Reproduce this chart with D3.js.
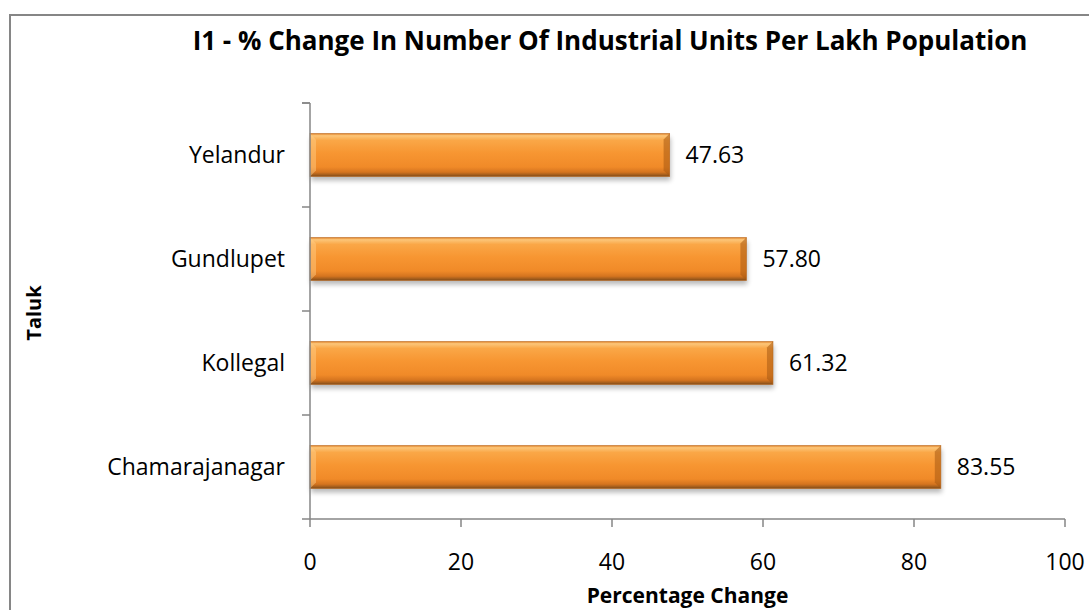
<!DOCTYPE html>
<html>
<head>
<meta charset="utf-8">
<script src="https://cdn.jsdelivr.net/npm/d3@7"></script>
<style>
  html, body { margin: 0; padding: 0; background: #ffffff; }
  svg { display: block; }
  text { font-family: "Open Sans", "Noto Sans", sans-serif; fill: #000; }
</style>
</head>
<body>
<svg id="chart" width="1089" height="610"></svg>
<script>
// Taluks (drawn bottom to top) and % change in industrial units per lakh population
const taluks = ["Chamarajanagar", "Kollegal", "Gundlupet", "Yelandur"];
const changeValues = [83.55, 61.32, 57.80, 47.63];
const xTicks = [0, 20, 40, 60, 80, 100];

const titleText = "I1 - % Change In Number Of Industrial Units Per Lakh Population";
const xTitle = "Percentage Change";
const yTitle = "Taluk";

const W = 1089, H = 610;
const plot = { left: 310, right: 1065, top: 103, bottom: 519 };
const axisColor = "#868686";

const svg = d3.select("#chart");

// chart frame
svg.append("rect")
  .attr("x", 10).attr("y", 15)
  .attr("width", W + 20).attr("height", H + 20)
  .attr("fill", "#fff")
  .attr("stroke", axisColor).attr("stroke-width", 2);

const defs = svg.append("defs");

const grad = defs.append("linearGradient")
  .attr("id", "barFill").attr("x1", 0).attr("y1", 0).attr("x2", 0).attr("y2", 1);
[
  [0, "#e07f25"], [0.05, "#fcc679"], [0.16, "#faa747"], [0.45, "#f79632"],
  [0.78, "#f08a28"], [0.9, "#d5741f"], [0.97, "#9c5a1c"], [1, "#7d4614"]
].forEach(([o, c]) => grad.append("stop").attr("offset", o).attr("stop-color", c));

const shadow = defs.append("filter").attr("id", "barShadow")
  .attr("x", "-5%").attr("y", "-30%").attr("width", "110%").attr("height", "170%");
shadow.append("feGaussianBlur").attr("stdDeviation", 2.5);

const x = d3.scaleLinear().domain([0, 100]).range([plot.left, plot.right]);
const gap = 0.587;
const y = d3.scaleBand().domain(taluks).range([plot.bottom, plot.top])
  .paddingInner(gap).paddingOuter(gap / 2);

const data = taluks.map((t, i) => ({ taluk: t, value: changeValues[i] }));

// bars with bevelled look
const bars = svg.append("g").selectAll("g").data(data).join("g");

bars.append("rect")
  .attr("x", x(0) + 1)
  .attr("y", d => y(d.taluk) + 4)
  .attr("width", d => x(d.value) - x(0))
  .attr("height", y.bandwidth())
  .attr("fill", "#000").attr("opacity", 0.28)
  .attr("filter", "url(#barShadow)");

bars.append("rect")
  .attr("x", x(0))
  .attr("y", d => y(d.taluk))
  .attr("width", d => x(d.value) - x(0))
  .attr("height", y.bandwidth())
  .attr("fill", "url(#barFill)");

const bev = 6;
// left end highlight
bars.append("path")
  .attr("d", d => {
    const x0 = x(0), y0 = y(d.taluk), h = y.bandwidth();
    return `M${x0},${y0} L${x0 + bev},${y0 + bev} L${x0 + bev},${y0 + h - bev} L${x0},${y0 + h} Z`;
  })
  .attr("fill", "#ffd08c").attr("opacity", 0.45);
// right end shade
bars.append("path")
  .attr("d", d => {
    const x1 = x(d.value), y0 = y(d.taluk), h = y.bandwidth();
    return `M${x1},${y0} L${x1 - bev},${y0 + bev} L${x1 - bev},${y0 + h - bev} L${x1},${y0 + h} Z`;
  })
  .attr("fill", "#a85a12").attr("opacity", 0.55);
bars.append("rect")
  .attr("x", x(0))
  .attr("y", d => y(d.taluk))
  .attr("width", d => x(d.value) - x(0))
  .attr("height", y.bandwidth())
  .attr("fill", "none").attr("stroke", "#b9651a").attr("stroke-width", 0.8).attr("opacity", 0.7);

// value labels
bars.append("text")
  .attr("x", d => x(d.value) + 16)
  .attr("y", d => y(d.taluk) + y.bandwidth() / 2)
  .attr("dy", "0.36em")
  .attr("font-size", 23)
  .text(d => d.value.toFixed(2));

// y axis
const yAxis = svg.append("g");
yAxis.append("line")
  .attr("x1", plot.left).attr("x2", plot.left)
  .attr("y1", plot.top).attr("y2", plot.bottom)
  .attr("stroke", axisColor).attr("stroke-width", 1.5);
const yBounds = taluks.map(t => y(t) - y.step() * gap / 2).concat([plot.top]);
yAxis.selectAll("line.tick").data(yBounds).join("line")
  .attr("class", "tick")
  .attr("x1", plot.left - 8).attr("x2", plot.left)
  .attr("y1", d => d).attr("y2", d => d)
  .attr("stroke", axisColor).attr("stroke-width", 1.5);
yAxis.selectAll("text").data(taluks).join("text")
  .attr("x", plot.left - 25)
  .attr("y", d => y(d) + y.bandwidth() / 2)
  .attr("dy", "0.36em")
  .attr("text-anchor", "end")
  .attr("font-size", 23)
  .text(d => d);

// x axis
const xAxis = svg.append("g");
xAxis.append("line")
  .attr("x1", plot.left - 8).attr("x2", plot.right)
  .attr("y1", plot.bottom).attr("y2", plot.bottom)
  .attr("stroke", axisColor).attr("stroke-width", 1.5);
xAxis.selectAll("line.tick").data(xTicks).join("line")
  .attr("class", "tick")
  .attr("x1", d => x(d)).attr("x2", d => x(d))
  .attr("y1", plot.bottom).attr("y2", plot.bottom + 8)
  .attr("stroke", axisColor).attr("stroke-width", 1.5);
xAxis.selectAll("text").data(xTicks).join("text")
  .attr("x", d => x(d))
  .attr("y", 570)
  .attr("text-anchor", "middle")
  .attr("font-size", 23)
  .text(d => d);

// titles
svg.append("text")
  .attr("x", 610).attr("y", 50)
  .attr("text-anchor", "middle")
  .attr("font-size", 26).attr("font-weight", "bold")
  .text(titleText);

svg.append("text")
  .attr("x", (plot.left + plot.right) / 2).attr("y", 603)
  .attr("text-anchor", "middle")
  .attr("font-size", 21).attr("font-weight", "bold")
  .text(xTitle);

svg.append("text")
  .attr("transform", `translate(41, ${(plot.top + plot.bottom) / 2 + 2}) rotate(-90)`)
  .attr("text-anchor", "middle")
  .attr("font-size", 20).attr("font-weight", "bold")
  .text(yTitle);
</script>
</body>
</html>
